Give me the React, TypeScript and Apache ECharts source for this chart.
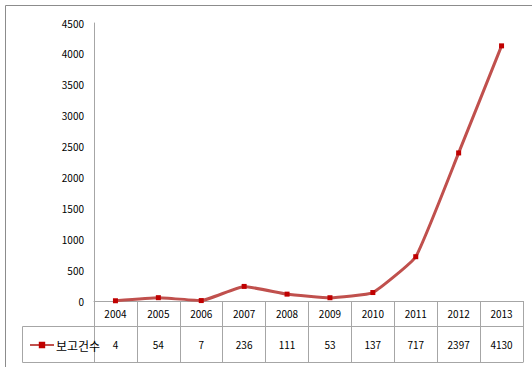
import React, { useEffect, useRef } from "react";
import * as echarts from "echarts";

const years = ["2004", "2005", "2006", "2007", "2008", "2009", "2010", "2011", "2012", "2013"];
const counts = [4, 54, 7, 236, 111, 53, 137, 717, 2397, 4130];
const seriesName = "보고건수";
const yMax = 4500;
const yStep = 500;

export default function App() {
  const ref = useRef<HTMLDivElement>(null);
  useEffect(() => {
    document.body.style.margin = "0";
    const chart = echarts.init(ref.current!, null, { renderer: "svg" });
    const W = 532;
    const gridLeft = 94, gridTop = 23, gridRight = 9, gridBottom = 66;
    const axisY = 367 - gridBottom; // 301
    const rowTop = 326, rowBottom = 362, tableLeft = 22, tableRight = W - gridRight;
    const font = "'Noto Sans CJK KR', 'Noto Sans', sans-serif";
    const gray = "#a6a6a6";
    chart.setOption({
      animation: false,
      backgroundColor: "#fff",
      grid: { left: gridLeft, top: gridTop, right: gridRight, bottom: gridBottom },
      legend: {
        show: true,
        left: 24,
        top: 334,
        itemWidth: 24,
        itemHeight: 8,
        itemGap: 0,
        textStyle: { fontFamily: font, fontSize: 12, color: "#000", padding: [0, 0, 0, -3] },
        data: [{ name: seriesName }],
      },
      xAxis: [
        {
          type: "category",
          data: years,
          boundaryGap: true,
          axisLine: { show: true, lineStyle: { color: gray, width: 1 } },
          axisTick: { show: true, interval: 0, length: rowBottom - axisY, lineStyle: { color: gray } },
          axisLabel: { interval: 0, margin: 7, fontFamily: font, fontSize: 10, color: "#000" },
        },
        {
          type: "category",
          data: counts.map(String),
          position: "bottom",
          boundaryGap: true,
          axisLine: { show: false },
          axisTick: { show: false },
          axisLabel: { interval: 0, margin: 38, fontFamily: font, fontSize: 10, color: "#000" },
        },
      ],
      yAxis: {
        type: "value",
        min: 0,
        max: yMax,
        interval: yStep,
        axisLine: { show: true, lineStyle: { color: gray, width: 1 } },
        axisTick: { show: false },
        splitLine: { show: false },
        axisLabel: { margin: 10, fontFamily: font, fontSize: 10, color: "#000", formatter: (v: number) => String(v) },
      },
      series: [
        {
          name: seriesName,
          type: "line",
          data: counts,
          smooth: 0.12,
          symbol: "rect",
          symbolSize: 5,
          lineStyle: { color: "#c0504d", width: 3 },
          itemStyle: { color: "#c00000" },
        },
      ],
      graphic: [
        { type: "line", shape: { x1: 5.5, y1: 5.5, x2: W, y2: 5.5 }, style: { stroke: "#8c8c8c", lineWidth: 1 } },
        { type: "line", shape: { x1: 5.5, y1: 5.5, x2: 5.5, y2: 367 }, style: { stroke: "#8c8c8c", lineWidth: 1 } },
        { type: "line", shape: { x1: tableLeft + 0.5, y1: rowTop + 0.5, x2: tableRight + 0.5, y2: rowTop + 0.5 }, style: { stroke: gray, lineWidth: 1 } },
        { type: "line", shape: { x1: tableLeft + 0.5, y1: rowBottom + 0.5, x2: tableRight + 0.5, y2: rowBottom + 0.5 }, style: { stroke: gray, lineWidth: 1 } },
        { type: "line", shape: { x1: tableLeft + 0.5, y1: rowTop + 0.5, x2: tableLeft + 0.5, y2: rowBottom + 0.5 }, style: { stroke: gray, lineWidth: 1 } },
      ],
    });
    return () => chart.dispose();
  }, []);
  return <div ref={ref} style={{ width: 532, height: 367 }} />;
}
